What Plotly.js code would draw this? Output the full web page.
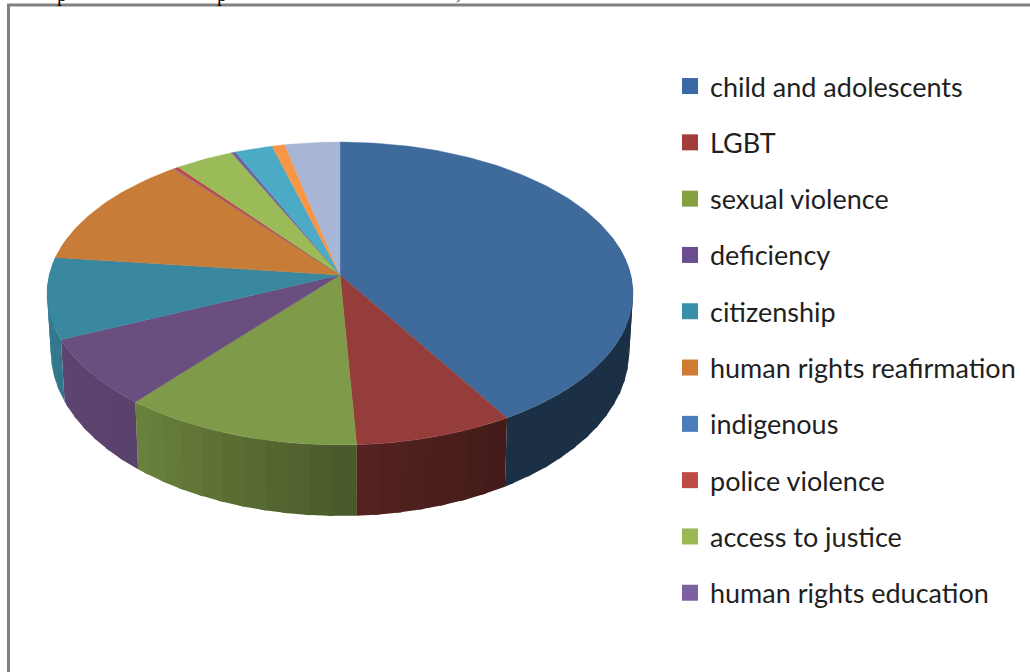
<!DOCTYPE html>
<html>
<head>
<meta charset="utf-8">
<script src="https://cdn.plot.ly/plotly-3.0.1.min.js"></script>
<style>
html,body{margin:0;padding:0;background:#fff;overflow:hidden}
text{font-variant-ligatures:none}
</style>
</head>
<body>
<div id="chart" style="width:1030px;height:672px"></div>
<script>
// Slice names; the last three slices have no legend row.
const categories = ['child and adolescents','LGBT','sexual violence','deficiency','citizenship',
  'human rights reafirmation','indigenous','police violence','access to justice','human rights education','','',''];
// Share of the disc per slice, in percent.
const shares = [41.4, 7.8, 11.8, 7.25, 8.65, 12.3, 0.05, 0.3, 3.65, 0.25, 2.35, 0.8, 3.4];
const faceColors = ['#3e6a9c','#953d3a','#7f9a48','#6a4e80','#3a87a0','#c77c38','#4a7ebb','#be4b48',
  '#9bbb59','#7060a0','#4babc6','#f79646','#a7b6d7'];
const swatchColors = ['#3a6aa4','#a23c3a','#84a03f','#6a4d8c','#3a8fa8','#cf7c32','#4a7ebb','#be4b48','#98b954','#7d60a0'];
// Side-wall brightness by clockwise angle from twelve o'clock.
const shadeAngles = [75, 149, 177, 219, 245, 285];
const shadeValues = [0.44, 0.44, 0.57, 0.84, 0.88, 0.92];

// Perspective disc: centre of the slices, horizontal and vertical scale, tilt.
const cx = 340, cy = 275, sx = 290.8, sy = 149.2, tilt = 0.122;

function rim(deg) {
  const a = deg * Math.PI / 180, u = Math.sin(a), v = -Math.cos(a), d = 1 - tilt * v;
  return [cx + sx * u / d, cy + sy * v / d];
}
function base(p) {
  return [cx + 0.987 * (p[0] - cx), p[1] + 62 + 9 * (p[1] - 340) / 104];
}
function shade(deg) {
  for (let i = 1; i < shadeAngles.length; i++) {
    if (deg <= shadeAngles[i]) {
      const t = (deg - shadeAngles[i - 1]) / (shadeAngles[i] - shadeAngles[i - 1]);
      return shadeValues[i - 1] + t * (shadeValues[i] - shadeValues[i - 1]);
    }
  }
  return shadeValues[shadeValues.length - 1];
}
function darken(hex, f) {
  const n = parseInt(hex.slice(1), 16);
  return `rgb(${Math.round((n >> 16) * f)},${Math.round(((n >> 8) & 255) * f)},${Math.round((n & 255) * f)})`;
}

const total = shares.reduce((s, v) => s + v, 0);
const ends = [];
shares.reduce((s, v, i) => (ends[i] = s + v / total * 360), 0);

const walls = [], faces = [];
shares.forEach((share, i) => {
  const start = i ? ends[i - 1] : 0, end = ends[i];
  // Wall bands for the part of the slice facing the viewer; each band runs
  // slightly under its neighbour so no seams show.
  const from = Math.max(start, 75), to = Math.min(end, 285);
  const step = 4;
  for (let a = from; a < to; a += step) {
    const b = Math.min(a + step, to), over = Math.min(b + 1, to);
    const p0 = rim(a), p1 = rim(b), p2 = rim(over);
    const q0 = base(p0), q1 = base(p1), q2 = base(p2);
    walls.push({
      type: 'scatter', mode: 'lines',
      x: [p0[0], p1[0], p2[0], q2[0], q1[0], q0[0], p0[0]],
      y: [p0[1], p1[1], p2[1], q2[1], q1[1], q0[1], p0[1]],
      fill: 'toself', fillcolor: darken(faceColors[i], shade((a + b) / 2)),
      line: {width: 0}, showlegend: false, hoverinfo: 'skip'
    });
  }
});
// Top faces of the slices.
shares.forEach((share, i) => {
  const start = i ? ends[i - 1] : 0, end = ends[i];
  const xs = [cx], ys = [cy];
  const n = Math.max(2, Math.ceil(end - start));
  for (let k = 0; k <= n; k++) {
    const p = rim(start + (end - start) * k / n);
    xs.push(p[0]); ys.push(p[1]);
  }
  xs.push(cx); ys.push(cy);
  faces.push({
    type: 'scatter', mode: 'lines', x: xs, y: ys, fill: 'toself', fillcolor: faceColors[i],
    line: {color: faceColors[i], width: 0.4}, showlegend: false,
    name: categories[i], hoverinfo: 'name'
  });
});

// Legend rows carry square swatches only.
const legendRows = categories.filter(c => c).map((c, i) => ({
  type: 'scatter', mode: 'markers', x: [null], y: [null], name: c, legendgroup: c,
  marker: {symbol: 'square', size: 16, color: swatchColors[i], line: {width: 0}}
}));

const layout = {
  width: 1030, height: 672, margin: {l: 0, r: 0, t: 0, b: 0},
  paper_bgcolor: '#fff', plot_bgcolor: '#fff',
  xaxis: {range: [0, 1030], visible: false, fixedrange: true},
  yaxis: {range: [672, 0], visible: false, fixedrange: true},
  legend: {
    x: 670 / 1030, y: 1 - 62 / 672, xanchor: 'left', yanchor: 'top', tracegroupgap: 18.2,
    traceorder: 'grouped', itemclick: false, itemdoubleclick: false,
    font: {family: 'Lato, sans-serif', size: 27, color: '#1f1f1f'}, bgcolor: 'rgba(0,0,0,0)'
  },
  shapes: [
    {type: 'line', xref: 'x', yref: 'y', x0: 8.5, x1: 8.5, y0: 4, y1: 672, line: {color: '#808080', width: 3}},
    {type: 'line', xref: 'x', yref: 'y', x0: 7, x1: 1030, y0: 5, y1: 5, line: {color: '#808080', width: 3}}
  ],
  annotations: [[62, 'p', 8], [222, 'p', 8], [458, ',', 5]].map(([x, t, y]) => ({
    xref: 'x', yref: 'y', x: x, y: y, yanchor: 'bottom', xanchor: 'center', showarrow: false, text: t,
    font: {family: 'Liberation Serif, serif', size: 20, color: '#000'}
  }))
};

Plotly.newPlot('chart', walls.concat(faces, legendRows), layout, {displayModeBar: false, responsive: false});
</script>
</body>
</html>
